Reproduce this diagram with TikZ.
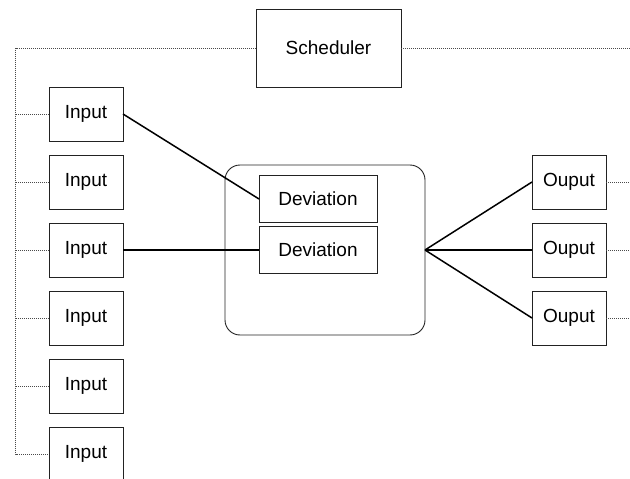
\documentclass[tikz,border=0pt]{standalone}
\usepackage{fontspec}
\setmainfont{Liberation Sans}
\usetikzlibrary{positioning}
\usepackage{xcolor}
\definecolor{busgray}{HTML}{4A4A4A}
\definecolor{boxline}{HTML}{222222}

\begin{document}
\begin{tikzpicture}[
    x=1pt, y=-1pt,
    node distance=14pt,
    unit/.style={
        rectangle,
        draw=boxline,
        line width=0.9pt,
        minimum width=74pt,
        minimum height=54pt,
        inner sep=0pt,
        outer sep=0pt,
        font=\fontsize{19}{22}\selectfont
    },
    stage/.style={
        rectangle,
        draw=boxline,
        line width=0.9pt,
        minimum width=118pt,
        minimum height=47pt,
        inner sep=0pt,
        outer sep=0pt,
        font=\fontsize{19}{22}\selectfont
    },
    core/.style={
        rectangle,
        rounded corners=15pt,
        draw=boxline,
        line width=0.9pt,
        minimum width=200pt,
        minimum height=170pt,
        outer sep=0pt
    },
    link/.style={
        line width=1.5pt,
        black
    },
    bus/.style={
        line width=1pt,
        busgray,
        dash pattern=on 1pt off 1pt
    }
]

\useasboundingbox (0,0) rectangle (630,479);

% Scheduler
\node[unit, minimum width=145pt, minimum height=78pt] (sched) at (328.5,48) {Scheduler};

% Processing block
\node[core] (proc) at (325,250) {};
\node[stage] (dev1) at (318,199) {Deviation};
\node[stage, below=4pt of dev1] (dev2) {Deviation};

% Inputs
\node[unit] (in1) at (86,114) {Input};
\node[unit, below=of in1] (in2) {Input};
\node[unit, below=of in2] (in3) {Input};
\node[unit, below=of in3] (in4) {Input};
\node[unit, below=of in4] (in5) {Input};
\node[unit, below=of in5] (in6) {Input};

% Outputs
\node[unit] (out2) at (569,250) {Ouput};
\node[unit, above=of out2] (out1) {Ouput};
\node[unit, below=of out2] (out3) {Ouput};

% Control bus
\coordinate (bustop) at (15.5,48);
\coordinate (busright) at (630,48);
\draw[bus] (sched.west) -- (bustop) |- (in6.west);
\draw[bus] (sched.east) -- (busright);
\draw[bus] (in1.west) -- (in1.west -| bustop);
\draw[bus] (in2.west) -- (in2.west -| bustop);
\draw[bus] (in3.west) -- (in3.west -| bustop);
\draw[bus] (in4.west) -- (in4.west -| bustop);
\draw[bus] (in5.west) -- (in5.west -| bustop);
\draw[bus] (out1.east) -- (out1.east -| busright);
\draw[bus] (out2.east) -- (out2.east -| busright);
\draw[bus] (out3.east) -- (out3.east -| busright);

% Data links
\draw[link] (in1.east) -- (dev1.west);
\draw[link] (in3.east) -- (dev2.west);
\draw[link] (proc.east) -- (out1.west);
\draw[link] (proc.east) -- (out2.west);
\draw[link] (proc.east) -- (out3.west);

\end{tikzpicture}
\end{document}
